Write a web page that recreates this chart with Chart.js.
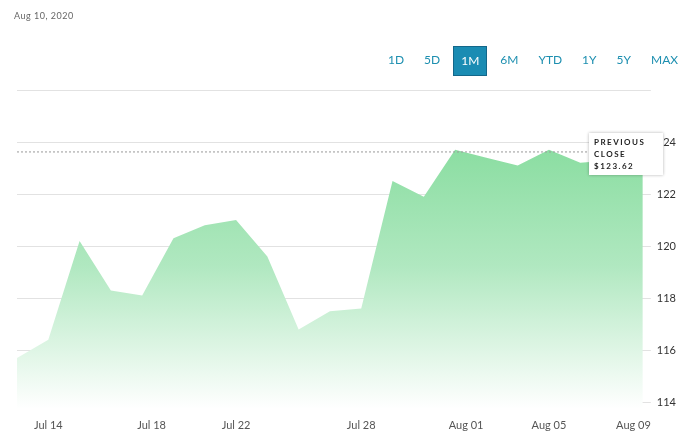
<!DOCTYPE html>
<html><head><meta charset="utf-8">
<script src="https://cdn.jsdelivr.net/npm/chart.js@4"></script>
<style>
body{margin:0;background:#fff;font-family:Lato,"Open Sans",sans-serif;}
#wrap{position:absolute;left:0;top:0;width:700px;height:434px;}
#date{position:absolute;left:14px;top:10px;font-size:9px;color:#666;letter-spacing:.5px;}
#btns{position:absolute;top:46px;left:381px;display:flex;}
#btns span{display:inline-block;height:28px;line-height:28px;padding:0 7px;margin-right:6px;font-size:12px;color:#1d8fb0;}
#btns span.on{background:#1a8cb3;color:#fff;border:1px solid #13678a;}
#tip{position:absolute;left:589px;top:133px;width:64px;padding:3px 5px;background:#fff;box-shadow:0 0 3px rgba(0,0,0,.3);font-size:8px;font-weight:bold;letter-spacing:1.5px;line-height:12px;color:#222;}
</style></head><body>
<div id="wrap"><canvas id="c" width="700" height="434"></canvas></div>
<div id="date">Aug 10, 2020</div>
<div id="btns"><span>1D</span><span>5D</span><span class="on">1M</span><span>6M</span><span>YTD</span><span>1Y</span><span>5Y</span><span>MAX</span></div>
<div id="tip">PREVIOUS<br>CLOSE<br>$123.62</div>
<script>
// closing prices, one per trading day Jul 13 .. Aug 10
const prices = [115.7, 116.4, 120.2, 118.3, 118.1, 120.3, 120.8, 121.0, 119.6, 116.8, 117.5,
                117.6, 122.5, 121.9, 123.7, 123.4, 123.1, 123.7, 123.2, 123.3, 123.1];
const tickLabels = ['Jul 14', 'Jul 18', 'Jul 22', 'Jul 28', 'Aug 01', 'Aug 05', 'Aug 09'];
const tickPos = [1, 4.3, 7, 11, 14.35, 17, 19.7];
const prevClose = 123.62;

const pts = prices.map((v, i) => ({x: i, y: v}));

const prevLine = {
    id: 'prevLine',
    afterDatasetsDraw(chart) {
        const ctx = chart.ctx, y = chart.scales.y.getPixelForValue(prevClose);
        ctx.save();
        ctx.strokeStyle = '#999';
        ctx.lineWidth = 1;
        ctx.setLineDash([2, 2]);
        ctx.beginPath();
        ctx.moveTo(chart.chartArea.left, y);
        ctx.lineTo(590, y);
        ctx.stroke();
        ctx.restore();
    }
};

const ctx = document.getElementById('c').getContext('2d');
new Chart(ctx, {
    type: 'line',
    data: {
        datasets: [{
            data: pts,
            borderWidth: 0,
            pointRadius: 0,
            tension: 0,
            fill: 'start',
            backgroundColor: function(context) {
                const a = context.chart.chartArea;
                if (!a) return '#7dd996';
                const g = context.chart.ctx.createLinearGradient(0, a.top, 0, a.bottom);
                g.addColorStop(0, '#78d892');
                g.addColorStop(0.55, '#b0e8c0');
                g.addColorStop(1, '#ffffff');
                return g;
            }
        }]
    },
    options: {
        responsive: false,
        animation: false,
        layout: {padding: {left: 17, top: 90, right: 18, bottom: 0}},
        plugins: {legend: {display: false}, tooltip: {enabled: false}},
        scales: {
            x: {
                type: 'linear', min: 0, max: 20,
                afterBuildTicks: (s) => { s.ticks = tickPos.map(v => ({value: v})); },
                ticks: {
                    callback: (v, i) => tickLabels[i],
                    color: '#555', font: {family: 'Lato', size: 11}, maxRotation: 0, padding: 2
                },
                grid: {display: false},
                border: {display: false}
            },
            y: {
                position: 'right', min: 113.75, max: 126,
                afterBuildTicks: (s) => { s.ticks = [114, 116, 118, 120, 122, 124, 126].map(v => ({value: v})); },
                ticks: {
                    callback: (v) => v === 126 ? '' : v,
                    color: '#333', font: {family: 'Lato', size: 11}, padding: 6
                },
                grid: {color: '#e2e2e2', drawTicks: true, tickLength: 8},
                border: {display: false}
            }
        }
    },
    plugins: [prevLine]
});
</script>
</body></html>
